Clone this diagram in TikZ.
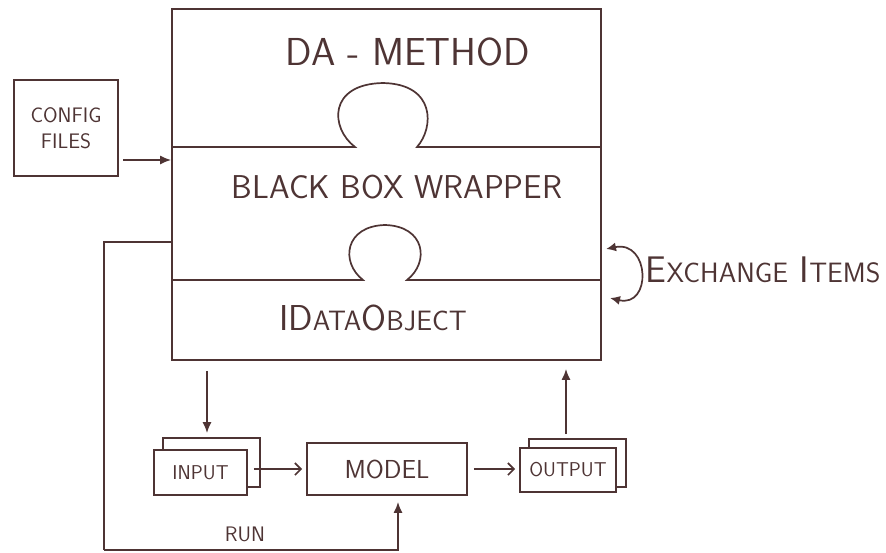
\documentclass[tikz,border=0pt]{standalone}
\usetikzlibrary{arrows.meta}
\definecolor{ink}{HTML}{4E3434}
\newcommand\fsz[1]{\fontsize{#1}{#1}\selectfont}
\newcommand\fakesc[2]{{\fsz{#1}\MakeUppercase{#2}}}
\begin{document}
\begin{tikzpicture}[x=1pt,y=-1pt,line width=1.7pt,color=ink,
  box/.style={draw,rectangle,inner sep=0pt,fill=white},
  lbl/.style={font=\sffamily,inner sep=0pt},
  arr/.style={-{Latex[length=11pt,width=9pt]}},
  chev/.style={-{Straight Barb[length=6pt,width=12pt]}},
  arrboth/.style={{Latex[length=10pt,width=9pt]}-{Latex[length=10pt,width=9pt]}}]
\useasboundingbox (0,0) rectangle (886,552);
% main stacked box
\node[box,minimum width=429pt,minimum height=351pt] (main) at (386.5,184.5) {};
% dividers with puzzle knobs
\draw (main.west |- 0,147) -- (355,147)
  .. controls (330,128) and (328,84) .. (383,83)
  .. controls (436,84) and (434,128) .. (417,147) -- (main.east |- 0,147);
\draw (main.west |- 0,280) -- (363,280)
  .. controls (340,262) and (345,226) .. (385,225)
  .. controls (425,226) and (430,262) .. (407,280) -- (main.east |- 0,280);
\node[lbl] (damethod) at (408,52) {\fsz{39}DA - METHOD};
\node[lbl] (bbw) at (397,187) {\fsz{33}BLACK BOX WRAPPER};
\node[lbl] (ido) at (373,318) {\fsz{36}ID\fakesc{28}{ata}O\fakesc{28}{bject}};
% config files
\node[box,minimum width=104pt,minimum height=96pt,align=center,font=\sffamily\fsz{21}] (config) at (66,128) {CONFIG\\[5pt]FILES};
\coordinate (cfgout) at (123,160);
\draw[arr] (cfgout) -- (cfgout -| main.west);
% input stack
\node[box,minimum width=97pt,minimum height=49pt] (inback) at (211.5,462.5) {};
\node[box,minimum width=93pt,minimum height=45pt,font=\sffamily\fsz{20}] (input) at (200.5,472.5) {INPUT};
% model
\node[box,minimum width=160pt,minimum height=52pt,font=\sffamily\fsz{26}] (model) at (387,469) {MODEL};
% output stack
\node[box,minimum width=97pt,minimum height=48pt] (outback) at (577.5,463) {};
\node[box,minimum width=96pt,minimum height=44pt,font=\sffamily\fsz{20}] (output) at (568,470) {OUTPUT};
% flows
\coordinate (inx) at (207,0);
\draw[arr,shorten <=10pt,shorten >=4pt] (main.south -| inx) -- (inback.north -| inx);
\coordinate (outx) at (566,0);
\draw[arr,shorten <=4pt,shorten >=8pt] (outback.north -| outx) -- (main.south -| outx);
\draw[chev,shorten <=6pt,shorten >=4pt] (input.east |- model.west) -- (model.west);
\draw[chev,shorten <=6pt,shorten >=4pt] (model.east) -- (output.west |- model.east);
% run loop
\coordinate (runstart) at (0,242);
\coordinate (runcorner) at (104,550);
\coordinate (runx) at (398,0);
\draw (main.west |- runstart) -| (runcorner);
\draw[arr,shorten >=6pt] (runcorner) -| (model.south -| runx);
\node[lbl,font=\sffamily\fsz{21}] (run) at (245,534) {RUN};
% exchange items
\coordinate (exa) at (606,249);
\coordinate (exb) at (610,298);
\draw[arrboth] (exa) .. controls (650,240) and (652,308) .. (exb);
\node[lbl,anchor=west] (exch) at (645,270) {\fsz{37}E\fakesc{28}{xchange} \fsz{37}I\fakesc{28}{tems}};
\end{tikzpicture}
\end{document}
